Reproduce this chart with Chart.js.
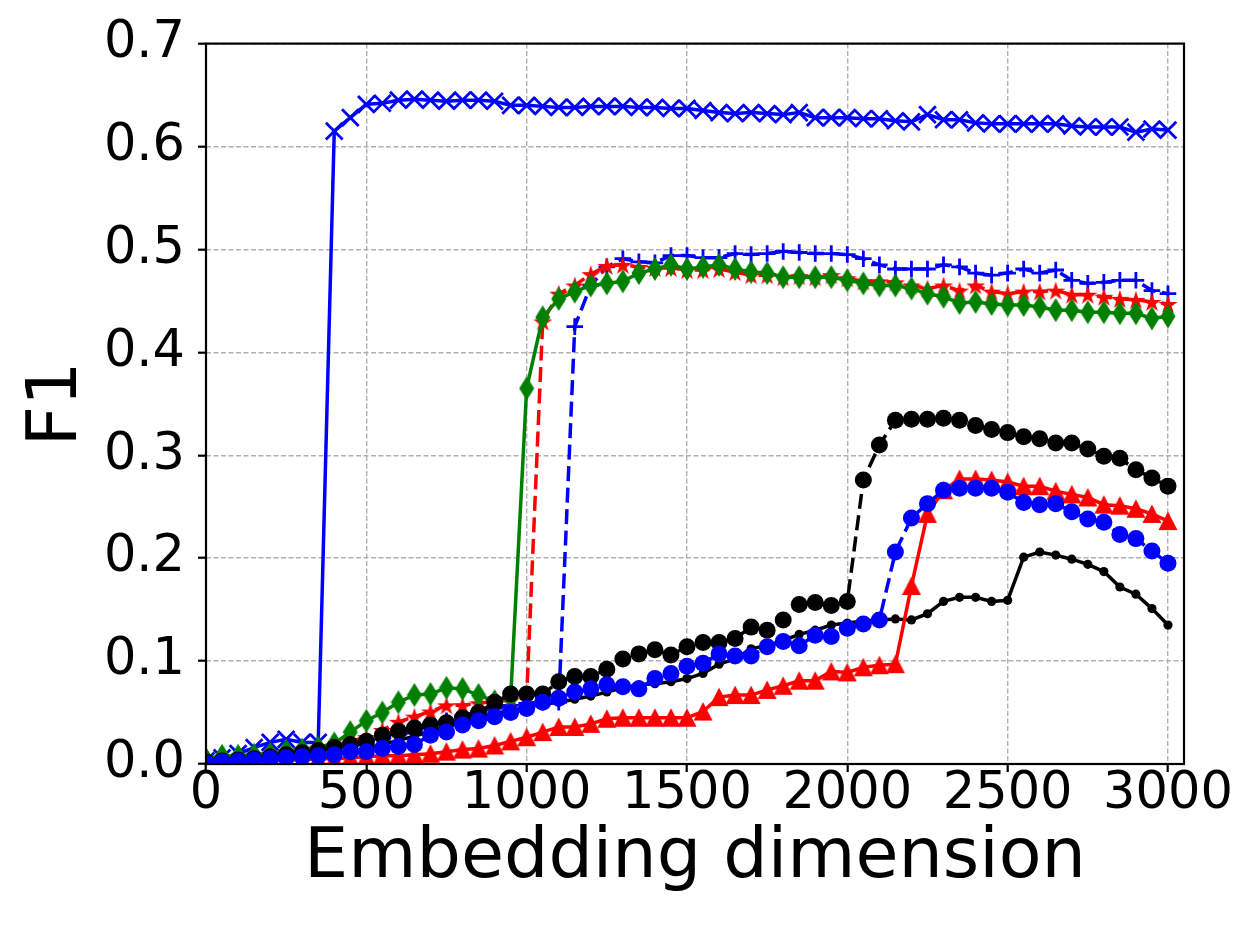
<!DOCTYPE html>
<html><head><meta charset="utf-8">
<script src="https://cdn.jsdelivr.net/npm/chart.js@4.4.1/dist/chart.umd.min.js"></script>
<style>html,body{margin:0;padding:0;background:#fff;}canvas{display:block;}</style>
</head><body>
<canvas id="c" width="1258" height="936" style="width:1258px;height:936px"></canvas>
<script>
const dims = [0,50,100,150,200,250,300,350,400,450,500,550,600,650,700,750,800,850,900,950,
  1000,1050,1100,1150,1200,1250,1300,1350,1400,1450,1500,1550,1600,1650,1700,1750,1800,1850,1900,1950,
  2000,2050,2100,2150,2200,2250,2300,2350,2400,2450,2500,2550,2600,2650,2700,2750,2800,2850,2900,2950,3000];
const xTicks = [0,500,1000,1500,2000,2500,3000];
const yTicks = [0,0.1,0.2,0.3,0.4,0.5,0.6,0.7];
const xTitle = 'Embedding dimension';
const yTitle = 'F1';

const blueCross = [0.003,0.006,0.010,0.016,0.021,0.024,0.021,0.021,0.615,0.628,
  0.641,0.642,0.645,0.646,0.645,0.644,0.645,0.645,0.644,0.640,
  0.640,0.639,0.638,0.638,0.639,0.639,0.639,0.638,0.638,0.637,
  0.637,0.635,0.633,0.632,0.633,0.632,0.631,0.633,0.628,0.628,
  0.628,0.627,0.627,0.625,0.624,0.631,0.626,0.626,0.623,0.622,
  0.622,0.622,0.622,0.622,0.620,0.619,0.619,0.619,0.614,0.617,0.616];
const bluePlus = [0.002,0.004,0.006,0.008,0.010,0.012,0.013,0.014,0.016,0.018,
  0.020,0.024,0.028,0.032,0.038,0.042,0.047,0.051,0.054,0.057,
  0.059,0.060,0.060,0.425,0.465,0.483,0.491,0.488,0.487,0.494,
  0.494,0.492,0.492,0.496,0.495,0.496,0.498,0.497,0.496,0.496,
  0.495,0.491,0.485,0.481,0.481,0.481,0.485,0.483,0.477,0.475,
  0.477,0.481,0.477,0.480,0.470,0.467,0.468,0.470,0.470,0.460,0.457];
const redStar = [0.002,0.004,0.006,0.008,0.010,0.012,0.014,0.016,0.018,0.022,
  0.026,0.033,0.041,0.046,0.051,0.057,0.057,0.059,0.061,0.062,
  0.065,0.430,0.457,0.465,0.476,0.484,0.485,0.483,0.482,0.482,
  0.480,0.480,0.481,0.478,0.475,0.475,0.473,0.474,0.473,0.475,
  0.472,0.469,0.469,0.468,0.465,0.462,0.465,0.460,0.465,0.459,
  0.457,0.459,0.459,0.460,0.456,0.456,0.454,0.452,0.451,0.449,0.447];
const greenDiamond = [0.005,0.008,0.008,0.009,0.010,0.013,0.014,0.016,0.020,0.031,
  0.042,0.050,0.060,0.067,0.068,0.074,0.073,0.067,0.061,0.064,
  0.365,0.434,0.452,0.459,0.465,0.467,0.469,0.477,0.481,0.485,
  0.481,0.483,0.485,0.481,0.478,0.477,0.473,0.473,0.473,0.473,
  0.470,0.467,0.465,0.465,0.462,0.457,0.454,0.448,0.449,0.447,
  0.446,0.446,0.444,0.441,0.441,0.439,0.439,0.438,0.438,0.433,0.435];
const blackDot = [0.002,0.003,0.004,0.005,0.006,0.007,0.008,0.009,0.010,0.012,
  0.015,0.019,0.023,0.027,0.032,0.036,0.041,0.045,0.049,0.052,
  0.055,0.058,0.060,0.063,0.066,0.070,0.074,0.077,0.078,0.080,
  0.083,0.088,0.097,0.102,0.112,0.115,0.120,0.126,0.130,0.135,
  0.137,0.139,0.140,0.141,0.140,0.146,0.158,0.162,0.162,0.158,
  0.159,0.201,0.206,0.203,0.199,0.194,0.187,0.172,0.165,0.151,0.135];
const blackCircle = [0.002,0.003,0.004,0.005,0.007,0.009,0.011,0.013,0.016,0.019,
  0.022,0.028,0.032,0.035,0.038,0.040,0.045,0.050,0.060,0.068,
  0.068,0.068,0.080,0.085,0.085,0.092,0.102,0.107,0.111,0.106,
  0.114,0.118,0.118,0.122,0.133,0.130,0.140,0.155,0.157,0.154,
  0.158,0.276,0.310,0.334,0.335,0.335,0.336,0.334,0.329,0.325,
  0.322,0.318,0.316,0.312,0.312,0.306,0.299,0.297,0.286,0.278,0.270];
const redTriangle = [0.001,0.002,0.002,0.003,0.003,0.004,0.004,0.005,0.005,0.006,
  0.007,0.008,0.008,0.009,0.010,0.012,0.014,0.015,0.018,0.022,
  0.026,0.031,0.036,0.036,0.039,0.044,0.045,0.045,0.045,0.045,
  0.045,0.051,0.065,0.067,0.067,0.072,0.076,0.081,0.081,0.090,
  0.089,0.094,0.096,0.097,0.173,0.243,0.266,0.277,0.277,0.276,
  0.274,0.270,0.270,0.265,0.262,0.259,0.252,0.251,0.248,0.243,0.236];
const blueCircle = [0.001,0.002,0.003,0.004,0.005,0.006,0.007,0.008,0.009,0.012,
  0.012,0.015,0.017,0.019,0.028,0.031,0.038,0.042,0.046,0.050,
  0.054,0.060,0.064,0.070,0.073,0.077,0.075,0.073,0.083,0.088,
  0.095,0.098,0.107,0.105,0.105,0.114,0.119,0.115,0.125,0.124,
  0.132,0.136,0.140,0.206,0.239,0.253,0.266,0.268,0.268,0.268,
  0.264,0.254,0.252,0.253,0.245,0.238,0.235,0.223,0.219,0.207,0.195];

function makeCanvas(w, h, draw) {
  const c = document.createElement('canvas');
  c.width = w; c.height = h;
  const g = c.getContext('2d');
  draw(g, w, h);
  return c;
}
const starImg = makeCanvas(22, 22, (g, w, h) => {
  const R = 10, r = R * 0.382, cx = w / 2, cy = h / 2 + 1;
  g.beginPath();
  for (let i = 0; i < 10; i++) {
    const rad = (i % 2 === 0) ? R : r;
    const a = -Math.PI / 2 + i * Math.PI / 5;
    const px = cx + rad * Math.cos(a), py = cy + rad * Math.sin(a);
    if (i === 0) g.moveTo(px, py); else g.lineTo(px, py);
  }
  g.closePath();
  g.fillStyle = '#ff0000';
  g.fill();
});
const diamondImg = makeCanvas(16, 26, (g, w, h) => {
  g.beginPath();
  g.moveTo(w / 2, 1); g.lineTo(w - 0.5, h / 2); g.lineTo(w / 2, h - 1); g.lineTo(0.5, h / 2);
  g.closePath();
  g.fillStyle = '#008000';
  g.fill();
});
const triImg = makeCanvas(20, 20, (g, w, h) => {
  g.beginPath();
  g.moveTo(w / 2, 0.5); g.lineTo(w - 0.5, h - 1); g.lineTo(0.5, h - 1);
  g.closePath();
  g.fillStyle = '#ff0000';
  g.fill();
});

const DASH = [15, 6.5];
function series(values, color, opts) {
  return Object.assign({
    data: dims.map((d, i) => ({ x: d, y: values[i] })),
    borderColor: color,
    backgroundColor: color,
    pointBackgroundColor: color,
    pointBorderColor: color,
    borderWidth: 3.5,
    fill: false,
    tension: 0,
    clip: 0
  }, opts);
}

const datasets = [
  series(blueCircle, '#0000ff', { borderDash: DASH, pointStyle: 'circle', pointRadius: 8.5, pointBorderWidth: 0, order: 1 }),
  series(redTriangle, '#ff0000', { pointStyle: triImg, order: 2 }),
  series(blackCircle, '#000000', { borderDash: DASH, pointStyle: 'circle', pointRadius: 8.5, pointBorderWidth: 0, order: 3 }),
  series(blackDot, '#000000', { pointStyle: 'circle', pointRadius: 4.6, pointBorderWidth: 0, order: 4 }),
  series(greenDiamond, '#008000', { pointStyle: diamondImg, order: 5 }),
  series(redStar, '#ff0000', { borderDash: DASH, pointStyle: starImg, order: 6 }),
  series(bluePlus, '#0000ff', { borderDash: DASH, pointStyle: 'cross', pointRadius: 8.3, pointBorderWidth: 2.8, order: 7 }),
  series(blueCross, '#0000ff', { pointStyle: 'crossRot', pointRadius: 11.8, pointBorderWidth: 2.8, order: 8 })
];

const framePlugin = {
  id: 'frame',
  afterDraw(chart) {
    const { ctx, chartArea: a } = chart;
    ctx.save();
    ctx.strokeStyle = '#000';
    ctx.lineWidth = 2.2;
    ctx.setLineDash([]);
    ctx.strokeRect(a.left, a.top, a.right - a.left, a.bottom - a.top);
    ctx.restore();
  }
};

const FONT = "'DejaVu Sans', sans-serif";
const gridOpts = {
  color: '#b0b0b0',
  lineWidth: 1.4,
  drawTicks: true,
  tickLength: 8,
  tickColor: '#000',
  tickWidth: 2.2,
  tickBorderDash: []
};

new Chart(document.getElementById('c'), {
  type: 'line',
  data: { datasets },
  plugins: [framePlugin],
  options: {
    responsive: false,
    animation: false,
    events: [],
    layout: { padding: { top: 41, right: 74, left: 0, bottom: 0 } },
    plugins: { legend: { display: false }, tooltip: { enabled: false }, title: { display: false } },
    scales: {
      x: {
        type: 'linear',
        min: 0, max: 3050,
        grid: gridOpts,
        border: { display: false, dash: [5, 2.5] },
        afterBuildTicks: (s) => { s.ticks = xTicks.map(v => ({ value: v })); },
        afterFit: (s) => { s.height = 172; },
        ticks: {
          color: '#000',
          font: { family: FONT, size: 51 },
          padding: -8,
          maxRotation: 0,
          callback: (v) => String(v)
        },
        title: {
          display: true, text: xTitle, color: '#000',
          font: { family: FONT, size: 70 },
          padding: { top: 0, bottom: 35 }
        }
      },
      y: {
        type: 'linear',
        min: 0, max: 0.7,
        grid: gridOpts,
        border: { display: false, dash: [5, 2.5] },
        afterBuildTicks: (s) => { s.ticks = yTicks.map(v => ({ value: v })); },
        afterFit: (s) => { s.width = 206; },
        ticks: {
          color: '#000',
          font: { family: FONT, size: 51 },
          padding: 13,
          callback: (v) => Number(v).toFixed(1)
        },
        title: {
          display: true, text: yTitle, color: '#000',
          font: { family: FONT, size: 70 },
          padding: { top: 16, bottom: 0 }
        }
      }
    }
  }
});
</script>
</body></html>
